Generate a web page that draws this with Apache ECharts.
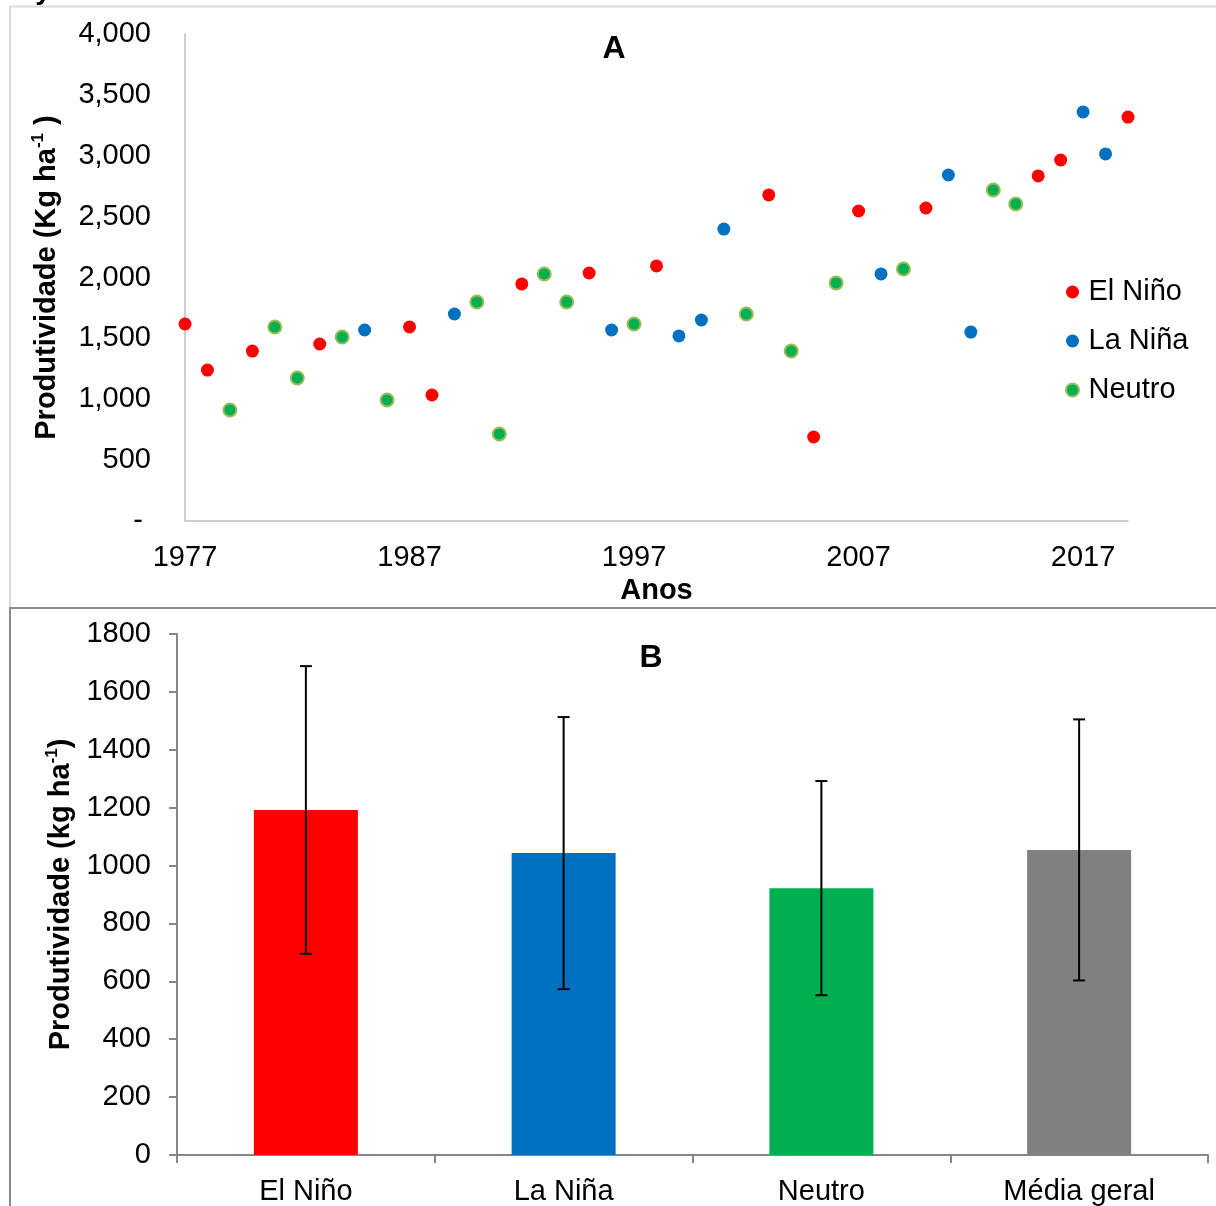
<!DOCTYPE html>
<html>
<head>
<meta charset="utf-8">
<script src="https://cdn.jsdelivr.net/npm/echarts@6/dist/echarts.min.js"></script>
<style>
html,body{margin:0;padding:0;background:#fff;}
#chart{width:1216px;height:1206px;}
</style>
</head>
<body>
<div id="chart"></div>
<script>
// ---------- Data: panel A ----------
const years = [1977,1978,1979,1980,1981,1982,1983,1984,1985,1986,1987,1988,1989,1990,1991,1992,1993,1994,1995,1996,1997,1998,1999,2000,2001,2002,2003,2004,2005,2006,2007,2008,2009,2010,2011,2012,2013,2014,2015,2016,2017,2018,2019];
const yields = [1618,1240,912,1396,1594,1175,1454,1511,1569,994,1594,1035,1700,1799,715,1947,2029,1799,2037,1569,1618,2095,1520,1651,2398,1700,2678,1396,690,1955,2546,2029,2070,2571,2842,1552,2719,2604,2834,2965,3360,3015,3318];
const phases = ['E','E','N','E','N','N','E','N','L','N','E','E','L','N','N','E','N','N','E','L','N','E','L','L','L','N','E','N','E','N','E','L','N','E','L','L','N','N','E','E','L','L','E'];
const phaseNames = {E:'El Niño', L:'La Niña', N:'Neutro'};
const yTicksA = [0,500,1000,1500,2000,2500,3000,3500,4000];

// ---------- Data: panel B ----------
const categoriesB = ['El Niño','La Niña','Neutro','Média geral'];
const meansB = [1192,1043,922,1054];
const sdB = [497,470,370,451];

const FONT = "'Liberation Sans', Arial, sans-serif";
const FS = 29;
const baseYear = years[0];

function seriesPoints(code){
  const out = [];
  years.forEach((y,i)=>{ if(phases[i]===code) out.push([y-baseYear, yields[i]]); });
  return out;
}

const barColors = ['#FF0000','#0070C0','#00B050','#808080'];

const chart = echarts.init(document.getElementById('chart'), null, {renderer:'canvas'});

const richName = {
  b:{fontSize:FS, fontWeight:'bold', color:'#000', fontFamily:FONT, lineHeight:34},
  s:{fontSize:17, fontWeight:'bold', color:'#000', fontFamily:FONT, lineHeight:22, verticalAlign:'top'}
};

const option = {
  animation:false,
  backgroundColor:'#fff',
  textStyle:{fontFamily:FONT},
  grid:[
    {left:185, top:34, width:943, height:487},
    {left:177, top:634, width:1031, height:521}
  ],
  legend:{
    data:['El Niño','La Niña','Neutro'],
    orient:'vertical',
    left:1065, top:276,
    itemWidth:22, itemHeight:13, itemGap:17,
    icon:'circle',
    padding:0,
    textStyle:{fontSize:FS, color:'#000', fontFamily:FONT, lineHeight:32}
  },
  xAxis:[
    {
      type:'value', gridIndex:0, min:0, max:years[years.length-1]-baseYear, interval:10,
      axisLine:{show:true, lineStyle:{color:'#bfbfbf', width:1.5}},
      axisTick:{show:false}, splitLine:{show:false},
      axisLabel:{fontSize:FS, color:'#000', margin:22, fontFamily:FONT, showMaxLabel:false,
        formatter:v => (v % 10 === 0 ? String(baseYear + v) : '')},
      name:'Anos', nameLocation:'middle', nameGap:55,
      nameTextStyle:{fontSize:FS, fontWeight:'bold', color:'#000', fontFamily:FONT}
    },
    {
      type:'category', gridIndex:1, data:categoriesB, boundaryGap:true,
      axisLine:{show:true, lineStyle:{color:'#868686', width:2}},
      axisTick:{show:true, length:8, alignWithLabel:false, lineStyle:{color:'#868686', width:2}},
      axisLabel:{fontSize:FS, color:'#000', margin:22, fontFamily:FONT}
    }
  ],
  yAxis:[
    {
      type:'value', gridIndex:0, min:yTicksA[0], max:yTicksA[yTicksA.length-1], interval:500,
      axisLine:{show:true, lineStyle:{color:'#bfbfbf', width:1.5}},
      axisTick:{show:false}, splitLine:{show:false},
      axisLabel:{fontSize:FS, color:'#000', margin:34, fontFamily:FONT,
        formatter:v => (v === 0 ? '- ' : v.toLocaleString('en-US'))},
      name:'{b|Produtividade (Kg ha}{s|-1}{b| )}', nameLocation:'middle', nameGap:121,
      nameTextStyle:{color:'#000', fontFamily:FONT, rich:richName}
    },
    {
      type:'value', gridIndex:1, min:0, max:1800, interval:200,
      axisLine:{show:true, lineStyle:{color:'#868686', width:2}},
      axisTick:{show:true, length:8, lineStyle:{color:'#868686', width:2}},
      splitLine:{show:false},
      axisLabel:{fontSize:FS, color:'#000', margin:26, fontFamily:FONT, formatter:v => String(v)},
      name:'{b|Produtividade (kg ha}{s|-1}{b|)}', nameLocation:'middle', nameGap:89,
      nameTextStyle:{color:'#000', fontFamily:FONT, rich:richName}
    }
  ],
  series:[
    {name:phaseNames.E, type:'scatter', xAxisIndex:0, yAxisIndex:0, symbolSize:13,
      itemStyle:{color:'#FF0000', opacity:1}, data:seriesPoints('E')},
    {name:phaseNames.L, type:'scatter', xAxisIndex:0, yAxisIndex:0, symbolSize:13,
      itemStyle:{color:'#0070C0', opacity:1}, data:seriesPoints('L')},
    {name:phaseNames.N, type:'scatter', xAxisIndex:0, yAxisIndex:0, symbolSize:13,
      itemStyle:{color:'#00B050', borderColor:'#9BBB59', borderWidth:2, opacity:1}, data:seriesPoints('N')},
    {name:'B', type:'bar', xAxisIndex:1, yAxisIndex:1, barWidth:104,
      data:meansB.map((v,i)=>({value:v, itemStyle:{color:barColors[i]}}))},
    {name:'err', type:'custom', xAxisIndex:1, yAxisIndex:1, z:10,
      data:meansB.map((v,i)=>[i, v - sdB[i], v + sdB[i]]),
      renderItem:function(params, api){
        const lo = api.coord([api.value(0), api.value(1)]);
        const hi = api.coord([api.value(0), api.value(2)]);
        const cap = 6;
        const st = {stroke:'#000', lineWidth:2};
        return {type:'group', children:[
          {type:'line', shape:{x1:lo[0], y1:lo[1], x2:hi[0], y2:hi[1]}, style:st},
          {type:'line', shape:{x1:hi[0]-cap, y1:hi[1], x2:hi[0]+cap, y2:hi[1]}, style:st},
          {type:'line', shape:{x1:lo[0]-cap, y1:lo[1], x2:lo[0]+cap, y2:lo[1]}, style:st}
        ]};
      }
    }
  ],
  graphic:[
    {type:'line', shape:{x1:10, y1:6.5, x2:1216, y2:6.5}, style:{stroke:'#d9d9d9', lineWidth:2}, silent:true},
    {type:'line', shape:{x1:10, y1:6, x2:10, y2:607}, style:{stroke:'#d9d9d9', lineWidth:2}, silent:true},
    {type:'line', shape:{x1:10, y1:608, x2:1216, y2:608}, style:{stroke:'#8c8c8c', lineWidth:2}, silent:true},
    {type:'line', shape:{x1:10, y1:607, x2:10, y2:1206}, style:{stroke:'#8c8c8c', lineWidth:2}, silent:true},
    {type:'text', x:43, y:5, style:{text:'y', fontSize:28, fontWeight:'bold', fontFamily:FONT, fill:'#000', align:'center', verticalAlign:'bottom'}, silent:true},
    {type:'text', x:614, y:49, style:{text:'A', fontSize:32, fontWeight:'bold', fontFamily:FONT, fill:'#000', align:'center', verticalAlign:'middle'}, silent:true},
    {type:'text', x:651, y:658, style:{text:'B', fontSize:32, fontWeight:'bold', fontFamily:FONT, fill:'#000', align:'center', verticalAlign:'middle'}, silent:true}
  ]
};

chart.setOption(option);
</script>
</body>
</html>
